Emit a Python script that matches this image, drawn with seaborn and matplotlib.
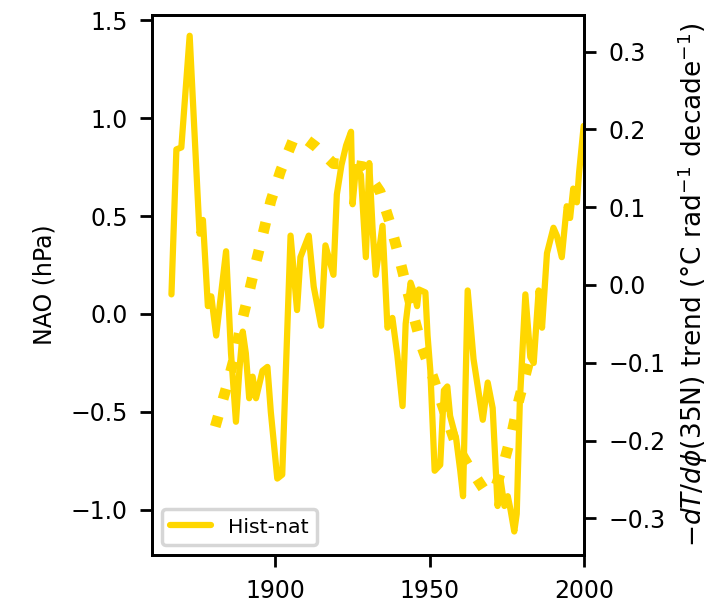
import matplotlib
matplotlib.use("Agg")
import matplotlib.pyplot as plt
import seaborn as sns

# NAO (hPa), Hist-nat, solid line on the left axis
nao_years = [
    1866.3, 1867.9, 1869.5, 1872.2, 1875.4, 1876.5, 1878.1, 1879.2, 1880.8, 1884.0,
    1885.6, 1887.2, 1888.3, 1889.4, 1890.4, 1891.5, 1892.6, 1893.7, 1895.8, 1897.4,
    1898.5, 1900.6, 1902.2, 1904.9, 1907.0, 1908.1, 1910.8, 1912.4, 1914.8, 1916.2,
    1918.8, 1919.9, 1921.4, 1922.9, 1924.5, 1925.0, 1926.1, 1927.7, 1929.3, 1930.4,
    1931.5, 1932.5, 1934.7, 1936.3, 1937.9, 1939.5, 1941.2, 1942.2, 1943.8, 1944.9,
    1945.9, 1946.5, 1948.6, 1949.3, 1950.2, 1951.6, 1953.4, 1954.6, 1955.7, 1956.6,
    1958.6, 1959.9, 1960.8, 1962.3, 1964.2, 1967.2, 1968.8, 1970.4, 1972.0, 1973.0,
    1974.2, 1975.3, 1976.2, 1977.4, 1978.2, 1979.2, 1981.0, 1982.6, 1983.7, 1985.3,
    1986.4, 1988.0, 1990.1, 1991.2, 1992.8, 1994.4, 1995.5, 1996.5, 1997.7, 1998.4,
    1999.9,
]
nao_values = [
    0.10, 0.84, 0.85, 1.42, 0.41, 0.48, 0.04, 0.09, -0.11, 0.32,
    -0.20, -0.55, -0.29, -0.09, -0.20, -0.43, -0.32, -0.43, -0.29, -0.27,
    -0.50, -0.84, -0.82, 0.40, 0.02, 0.29, 0.40, 0.14, -0.06, 0.35,
    0.20, 0.61, 0.76, 0.86, 0.93, 0.56, 0.75, 0.71, 0.29, 0.77,
    0.43, 0.20, 0.45, -0.07, -0.02, -0.21, -0.47, -0.05, 0.16, 0.11,
    0.04, 0.125, 0.11, -0.11, -0.29, -0.80, -0.77, -0.39, -0.37, -0.52,
    -0.64, -0.80, -0.93, 0.12, -0.23, -0.54, -0.35, -0.48, -0.98, -0.85,
    -0.98, -0.93, -1.00, -1.11, -1.02, -0.45, 0.10, -0.22, -0.25, 0.12,
    -0.07, 0.31, 0.44, 0.40, 0.29, 0.55, 0.49, 0.64, 0.57, 0.72,
    0.96,
]

# -dT/dphi(35N) trend, dotted line on the right axis
trend_years = [
    1880.5, 1884.0, 1886.7, 1888.8, 1891.3, 1893.7, 1896.1, 1898.5, 1901.7, 1905.7,
    1909.0, 1913.0, 1918.8, 1923.7, 1928.5, 1933.9, 1937.1, 1939.8, 1942.3, 1944.8,
    1947.5, 1951.0, 1955.0, 1958.5, 1962.8, 1968.1, 1971.5, 1974.0, 1976.7, 1978.9,
    1981.5, 1983.0,
]
trend_values = [
    -0.182, -0.133, -0.093, -0.052, -0.012, 0.029, 0.068, 0.108, 0.147, 0.186,
    0.190, 0.178, 0.156, 0.155, 0.152, 0.120, 0.080, 0.040, 0.000, -0.040,
    -0.080, -0.118, -0.165, -0.205, -0.234, -0.266, -0.258, -0.229, -0.189, -0.148,
    -0.108, -0.085,
]

line_color = "gold"

sns.set_style("ticks", {
    "axes.edgecolor": "black",
    "xtick.color": "black",
    "ytick.color": "black",
    "text.color": "black",
    "axes.labelcolor": "black",
})
plt.rcParams["font.family"] = ["DejaVu Sans"]
plt.rcParams["font.size"] = 6.8
plt.rcParams["axes.linewidth"] = 0.8

fig = plt.figure(figsize=(727 / 250, 609 / 250), dpi=250)
ax = fig.add_axes([0.2091, 0.0887, 0.5942, 0.8867])
ax2 = ax.twinx()

sns.lineplot(x=nao_years, y=nao_values, ax=ax, color=line_color,
             linewidth=1.8, label="Hist-nat")
sns.lineplot(x=trend_years, y=trend_values, ax=ax2, color=line_color,
             linewidth=3.1, linestyle=":", legend=False)

ax.set_xlim(1860, 2000)
ax.set_ylim(-1.230, 1.526)
ax2.set_ylim(-0.347, 0.347)
ax.set_xticks([1900, 1950, 2000])
ax.set_yticks([-1.0, -0.5, 0.0, 0.5, 1.0, 1.5])
ax2.set_yticks([-0.3, -0.2, -0.1, 0.0, 0.1, 0.2, 0.3])

ax.set_xlabel("")
ax.set_ylabel("NAO (hPa)")
ax2.set_ylabel(r"$-dT/d\phi$(35N) trend (°C rad$^{-1}$ decade$^{-1}$)",
               fontsize=7.6, labelpad=3)

ax.legend(loc="lower left", fontsize=5.9)

fig.savefig("out.png", dpi=250)
